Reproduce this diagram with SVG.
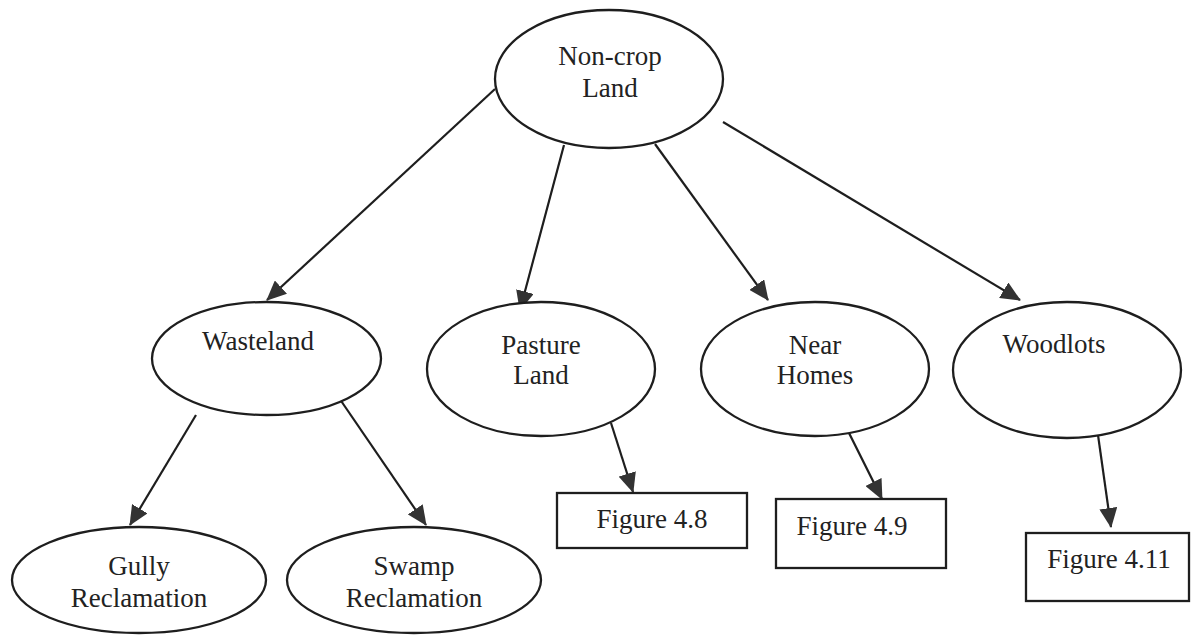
<svg xmlns="http://www.w3.org/2000/svg" width="1198" height="635" viewBox="0 0 1198 635">
<style>
.node ellipse, .node rect { fill: #ffffff; stroke: #1e1e1e; stroke-width: 2.3; }
.node text { font-family: "Liberation Serif", "Times New Roman", serif; font-size: 27px; fill: #222222; text-anchor: middle; }
.edge { stroke: #1e1e1e; stroke-width: 2.2; fill: none; marker-end: url(#arrow); }
</style>
<defs>
<marker id="arrow" viewBox="0 0 20 18" refX="19" refY="9" markerWidth="20" markerHeight="18" markerUnits="userSpaceOnUse" orient="auto">
<path d="M0,0 L20,9 L0,18 z" fill="#333333"/>
</marker>
</defs>
<rect width="1198" height="635" fill="#ffffff"/>
<g id="connectors">
<line class="edge" x1="495" y1="89" x2="267" y2="300"/>
<line class="edge" x1="564" y1="145" x2="520" y2="310"/>
<line class="edge" x1="655" y1="144" x2="768" y2="300"/>
<line class="edge" x1="723" y1="122" x2="1020" y2="300"/>
<line class="edge" x1="196" y1="415" x2="130" y2="525"/>
<line class="edge" x1="335" y1="392" x2="426" y2="525"/>
<line class="edge" x1="611" y1="423" x2="633" y2="492"/>
<line class="edge" x1="849" y1="433" x2="882" y2="499"/>
<line class="edge" x1="1098" y1="435" x2="1111" y2="527"/>
</g>
<g id="non-crop-land" class="node">
<ellipse cx="609" cy="79" rx="114" ry="69"/>
<text x="610" y="65">Non-crop</text>
<text x="610" y="97">Land</text>
</g>
<g id="wasteland" class="node">
<ellipse cx="266.5" cy="358.5" rx="114.5" ry="56.5"/>
<text x="258" y="350">Wasteland</text>
</g>
<g id="pasture-land" class="node">
<ellipse cx="541" cy="369" rx="114" ry="67"/>
<text x="541" y="354">Pasture</text>
<text x="541" y="384">Land</text>
</g>
<g id="near-homes" class="node">
<ellipse cx="815" cy="369" rx="114" ry="67"/>
<text x="815" y="354">Near</text>
<text x="815" y="384">Homes</text>
</g>
<g id="woodlots" class="node">
<ellipse cx="1067" cy="370" rx="114" ry="68"/>
<text x="1054" y="353">Woodlots</text>
</g>
<g id="gully-reclamation" class="node">
<ellipse cx="139" cy="580" rx="127" ry="53"/>
<text x="139" y="575">Gully</text>
<text x="139" y="607">Reclamation</text>
</g>
<g id="swamp-reclamation" class="node">
<ellipse cx="414" cy="580" rx="127" ry="53"/>
<text x="414" y="575">Swamp</text>
<text x="414" y="607">Reclamation</text>
</g>
<g id="figure-4-8" class="node">
<rect x="557" y="493" width="190" height="55"/>
<text x="652" y="528">Figure 4.8</text>
</g>
<g id="figure-4-9" class="node">
<rect x="776" y="499" width="170" height="69"/>
<text x="852" y="535">Figure 4.9</text>
</g>
<g id="figure-4-11" class="node">
<rect x="1026" y="533" width="163" height="68"/>
<text x="1109" y="568">Figure 4.11</text>
</g>
</svg>
